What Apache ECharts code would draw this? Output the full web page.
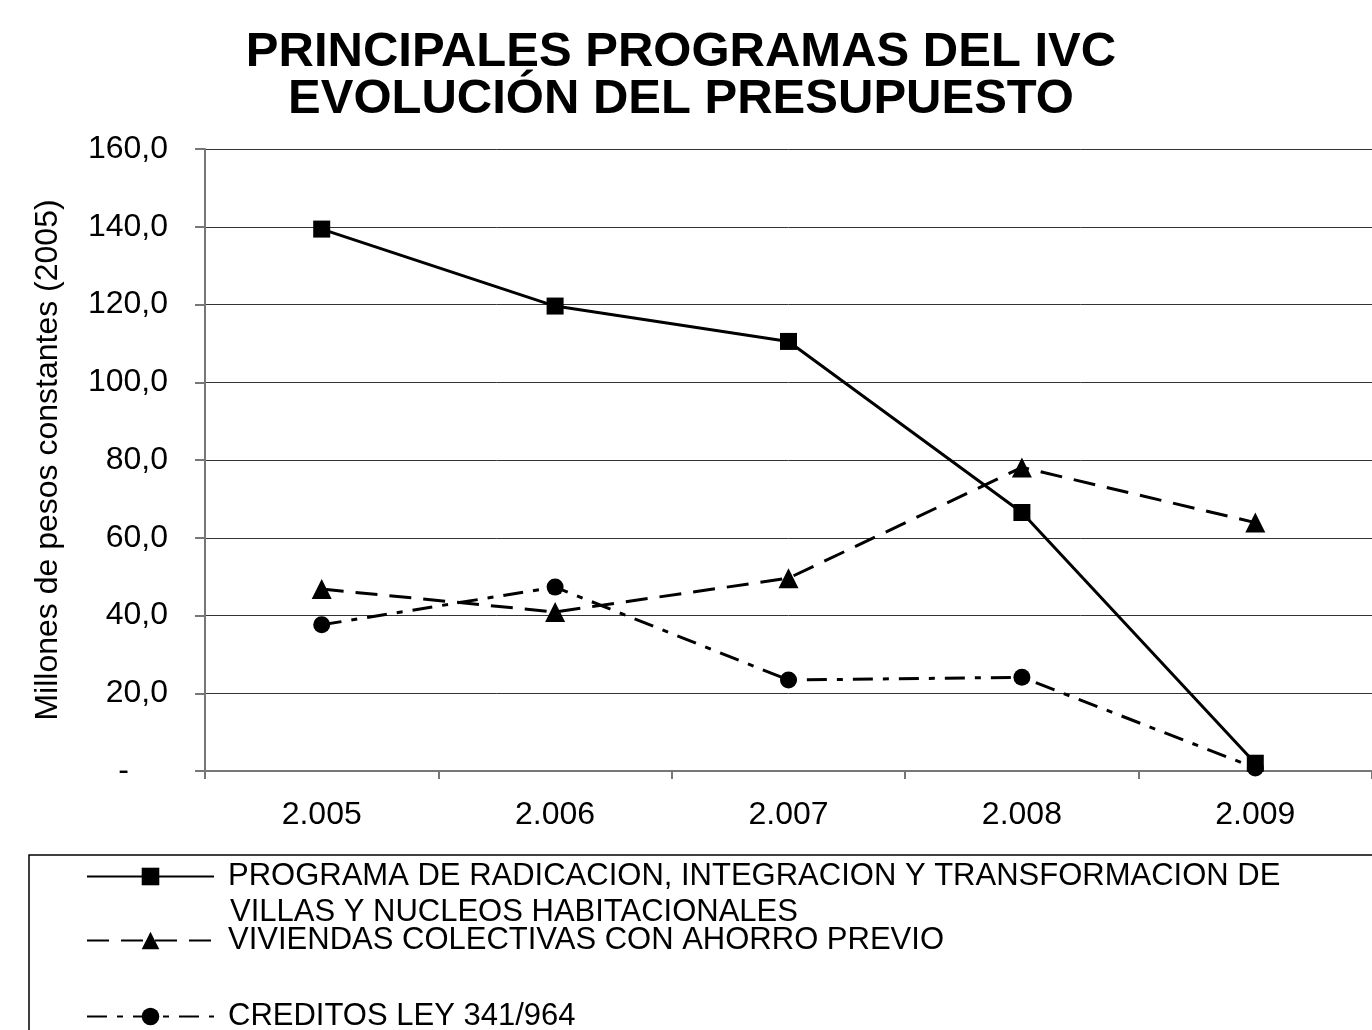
<!DOCTYPE html>
<html>
<head>
<meta charset="utf-8">
<script src="https://cdn.jsdelivr.net/npm/echarts@6/dist/echarts.min.js"></script>
<style>
  html, body { margin: 0; padding: 0; background: #fff; }
  #chart { width: 1372px; height: 1030px; }
</style>
</head>
<body>
<div id="chart"></div>
<script>
// datos (millones de pesos constantes 2005)
var years = ['2.005', '2.006', '2.007', '2.008', '2.009'];
var programaRadicacion = [139.4, 119.6, 110.5, 66.5, 2.0];
var viviendasColectivas = [46.8, 40.9, 49.6, 78.1, 63.9];
var creditosLey = [37.6, 47.3, 23.4, 24.1, 0.8];
var yTicks = { min: 0, max: 160, interval: 20 };

var nombres = [
  'PROGRAMA DE RADICACION, INTEGRACION Y TRANSFORMACION DE',
  'VIVIENDAS COLECTIVAS CON AHORRO PREVIO',
  'CREDITOS LEY 341/964'
];

var font = 'Arial, "Liberation Sans", sans-serif';
var myChart = echarts.init(document.getElementById('chart'));

// leyendas separadas para poder ubicar cada una como en el original
function leyenda(nombre, top, pad) {
  return {
    data: [nombre],
    orient: 'vertical',
    left: 81,
    top: top,
    itemWidth: 127,
    itemHeight: 22,
    selectedMode: false,
    textStyle: { fontFamily: font, fontSize: 31, color: '#000', padding: pad || [0, 0, 0, 9] }
  };
}

myChart.setOption({
  animation: false,
  backgroundColor: '#fff',
  title: {
    text: 'PRINCIPALES PROGRAMAS DEL IVC\nEVOLUCIÓN DEL PRESUPUESTO',
    left: 676,
    textAlign: 'center',
    top: 24,
    textStyle: { fontFamily: font, fontSize: 49, fontWeight: 'bold', color: '#000', lineHeight: 47 }
  },
  grid: { left: 205, top: 149, right: -18, bottom: 259 },
  legend: [
    leyenda(nombres[0], 856),
    leyenda(nombres[1], 920, [0, 0, 12, 9]),
    leyenda(nombres[2], 996)
  ],
  graphic: [
    {
      type: 'rect',
      shape: { x: 29, y: 855, width: 1400, height: 200 },
      style: { fill: 'none', stroke: '#000', lineWidth: 1.5 },
      z: -1
    },
    {
      type: 'text',
      x: 230,
      y: 912,
      style: {
        text: 'VILLAS Y NUCLEOS HABITACIONALES',
        font: '31px ' + font,
        fill: '#000',
        verticalAlign: 'middle',
        textVerticalAlign: 'middle'
      }
    }
  ],
  xAxis: {
    type: 'category',
    data: years,
    boundaryGap: true,
    axisLine: { lineStyle: { color: '#777', width: 2 } },
    axisTick: { show: true, length: 8, lineStyle: { color: '#777', width: 2 } },
    axisLabel: { fontFamily: font, fontSize: 32, color: '#000', margin: 28 }
  },
  yAxis: {
    type: 'value',
    min: yTicks.min,
    max: yTicks.max,
    interval: yTicks.interval,
    name: 'Millones de pesos constantes (2005)',
    nameLocation: 'middle',
    nameGap: 141,
    nameTextStyle: { fontFamily: font, fontSize: 32, color: '#000' },
    axisLine: { show: true, lineStyle: { color: '#777', width: 2 } },
    axisTick: { show: true, length: 10, lineStyle: { color: '#777', width: 2 } },
    splitLine: { lineStyle: { color: '#333', width: 1 } },
    axisLabel: {
      fontFamily: font, fontSize: 32, color: '#000', margin: 37,
      formatter: function (v) {
        if (v === 0) return '{d|-}';
        return v.toFixed(1).replace('.', ',');
      },
      rich: { d: { fontFamily: font, fontSize: 32, color: '#000', padding: [0, 39, 0, 0] } }
    }
  },
  series: [
    {
      name: nombres[0],
      type: 'line',
      data: programaRadicacion,
      symbol: 'rect',
      symbolSize: 17,
      lineStyle: { color: '#000', width: 3, type: 'solid' },
      itemStyle: { color: '#000' }
    },
    {
      name: nombres[1],
      type: 'line',
      data: viviendasColectivas,
      symbol: 'triangle',
      symbolSize: 20,
      lineStyle: { color: '#000', width: 3, type: [22, 12] },
      itemStyle: { color: '#000' }
    },
    {
      name: nombres[2],
      type: 'line',
      data: creditosLey,
      symbol: 'circle',
      symbolSize: 17,
      lineStyle: { color: '#000', width: 3, type: [20, 10, 6, 10] },
      itemStyle: { color: '#000' }
    }
  ]
});
</script>
</body>
</html>
